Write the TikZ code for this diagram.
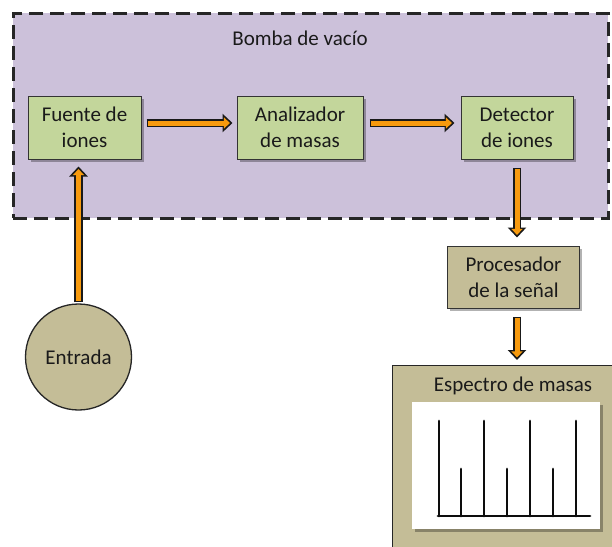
\documentclass[tikz,border=0pt]{standalone}
\usepackage{fontspec}
\setmainfont{Carlito}
\usetikzlibrary{arrows.meta,shadows,calc}
\definecolor{purp}{HTML}{CCC1DA}
\definecolor{greenb}{HTML}{C3D69B}
\definecolor{tanb}{HTML}{C4BD97}
\definecolor{orangeA}{HTML}{F79A0E}
\definecolor{txt}{HTML}{1A1A1A}
\tikzset{
  lbl/.style={font=\fontsize{21}{26}\selectfont, text=txt, align=center, inner sep=0pt},
  shadowed/.style={drop shadow={shadow xshift=2.5pt, shadow yshift=-2.5pt, opacity=0.3, fill=black}},
  greenbox/.style={lbl, shadowed, draw=black!80, line width=1pt, fill=greenb, minimum height=63pt},
  tanbox/.style={lbl, shadowed, draw=black!80, line width=1pt, fill=tanb, minimum height=62pt},
  bombabox/.style={draw=black!85, line width=2.5pt, dash pattern=on 14pt off 7pt, fill=purp},
  arrback/.style={draw=black!90, line width=8.2pt, -{Triangle[length=10pt,width=18pt]}},
  arrfront/.style={draw=orangeA, line width=5pt, -{Triangle[length=6pt,width=11pt]}, shorten <=1.6pt, shorten >=2.6pt},
  peak/.style={line width=2.8pt, line cap=round, black!95}
}
\begin{document}
\begin{tikzpicture}[x=1pt,y=-1pt]
\clip (0,0) rectangle (612,546);
\fill[white] (0,0) rectangle (612,546);
% vacuum pump region
\node[bombabox, anchor=north west, minimum width=595pt, minimum height=205pt] (bomba) at (12,12) {};
\node[lbl] (bombalbl) at (300,38) {Bomba de vacío};
% boxes
\node[greenbox, minimum width=113pt] (fuente) at (84.5,127.5) {Fuente de\\iones};
\node[greenbox, minimum width=126pt] (anal) at (300,127.5) {Analizador\\de masas};
\node[greenbox, minimum width=112pt] (det) at (517,127.5) {Detector\\de iones};
\node[tanbox, minimum width=132pt] (proc) at (513.5,277) {Procesador\\de la señal};
\node[lbl, circle, draw=black!85, line width=1.3pt, fill=tanb, minimum size=106pt] (ent) at (78.5,357) {Entrada};
% spectrum panel
\node[draw=black!85, line width=1.3pt, fill=tanb, anchor=north west, minimum width=240pt, minimum height=200pt] (esp) at (392,365) {};
\node[lbl] (esplbl) at (513,386) {Espectro de masas};
\node[fill=white, shadowed, anchor=north west, minimum width=188pt, minimum height=127pt, inner sep=0pt] (plot) at (412,402) {};
\draw[peak] (438,516) -- (590,516);
\foreach \x/\t in {439/421, 461/469, 484/421, 507/469, 530/421, 553/469, 576/421}
  \draw[peak] (\x,516) -- (\x,\t);
% connectors
\coordinate (a1s) at ($(fuente.east)+(5,-4.5)$);
\coordinate (a1e) at ($(anal.west)+(-4,-4.5)$);
\coordinate (a2s) at ($(anal.east)+(6,-4.5)$);
\coordinate (a2e) at ($(det.west)+(-6,-4.5)$);
\coordinate (a3s) at ($(det.south)+(0,8)$);
\coordinate (a3e) at ($(det.south |- proc.north)+(0,-8)$);
\coordinate (a4s) at ($(det.south |- proc.south)+(0,8)$);
\coordinate (a4e) at ($(det.south |- esp.north)+(0,-5)$);
\coordinate (a5s) at ($(ent.north)+(0,-1)$);
\coordinate (a5e) at ($(ent.north |- fuente.south)+(0,7)$);
\foreach \s/\e in {a1s/a1e, a2s/a2e, a3s/a3e, a4s/a4e, a5s/a5e} {
  \draw[arrback] (\s) -- (\e);
  \draw[arrfront] (\s) -- (\e);
}
\end{tikzpicture}
\end{document}
